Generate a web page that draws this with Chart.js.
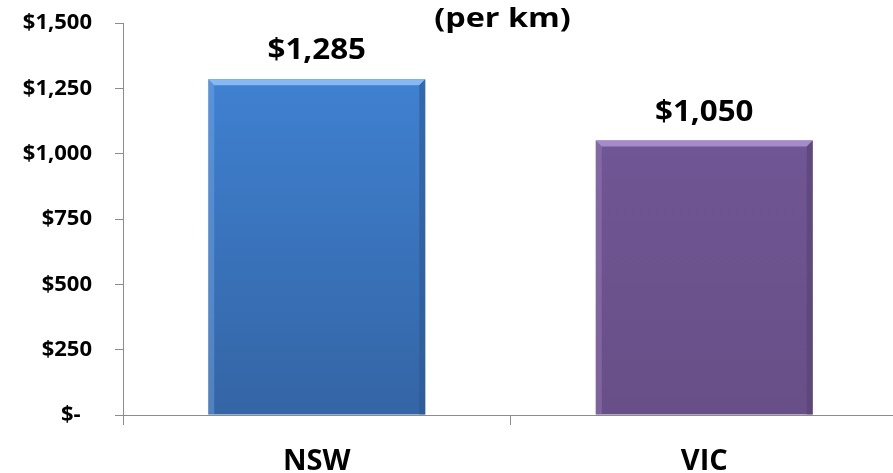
<!DOCTYPE html>
<html>
<head>
<meta charset="utf-8">
<script src="https://cdn.jsdelivr.net/npm/chart.js@4.4.0/dist/chart.umd.min.js"></script>
<style>
  html, body { margin: 0; padding: 0; background: #fff; overflow: hidden; }
  #wrap { width: 900px; height: 473px; }
</style>
</head>
<body>
<div id="wrap"><canvas id="chart"></canvas></div>
<script>
const states = ["NSW", "VIC"];
const costPerKm = [1285, 1050];
const yTicks = [0, 250, 500, 750, 1000, 1250, 1500];

// top / bottom shade of each bar
const barShades = [
  ["#4185d8", "#3465a5"],
  ["#72599a", "#694f87"]
];
const bevelLight = ["#86b8f2", "#a58bc9"];
const bevelDark = ["#2c5590", "#54406e"];

const FONT = "'Open Sans', 'Noto Sans', sans-serif";

function money(v) {
  if (v === 0) return "$-  ";
  return "$" + v.toLocaleString("en-US");
}

// bevelled edges on each bar
const bevelPlugin = {
  id: "bevel",
  afterDatasetsDraw(chart) {
    const ctx = chart.ctx;
    const meta = chart.getDatasetMeta(0);
    meta.data.forEach((bar, i) => {
      const l = bar.x - bar.width / 2, r = bar.x + bar.width / 2;
      const t = bar.y, b = bar.base;
      const e = 6;
      ctx.save();
      ctx.fillStyle = bevelLight[i];
      ctx.beginPath();
      ctx.moveTo(l, t); ctx.lineTo(r, t); ctx.lineTo(r - e, t + e); ctx.lineTo(l + e, t + e);
      ctx.closePath(); ctx.fill();
      ctx.globalAlpha = 0.35;
      ctx.beginPath();
      ctx.moveTo(l, t); ctx.lineTo(l + e, t + e); ctx.lineTo(l + e, b); ctx.lineTo(l, b);
      ctx.closePath(); ctx.fill();
      ctx.globalAlpha = 0.55;
      ctx.fillStyle = bevelDark[i];
      ctx.beginPath();
      ctx.moveTo(r, t); ctx.lineTo(r - e, t + e); ctx.lineTo(r - e, b); ctx.lineTo(r, b);
      ctx.closePath(); ctx.fill();
      ctx.restore();
    });
  }
};

// value above each bar, plus the chart title line
const labelPlugin = {
  id: "labels",
  afterDraw(chart) {
    const ctx = chart.ctx;
    const meta = chart.getDatasetMeta(0);
    ctx.save();
    ctx.fillStyle = "#000";
    ctx.textAlign = "center";
    ctx.textBaseline = "alphabetic";
    ctx.font = "bold 29px " + FONT;
    meta.data.forEach((bar, i) => {
      ctx.save();
      ctx.translate(bar.x, bar.y - 20);
      ctx.scale(1.08, 1);
      ctx.fillText(money(costPerKm[i]), 0, 0);
      ctx.restore();
    });
    const a = chart.chartArea;
    ctx.font = "bold 27px " + FONT;
    ctx.translate((a.left + a.right) / 2 - 8, 27);
    ctx.scale(1.2, 1);
    ctx.fillText("(per km)", 0, 0);
    ctx.restore();
  }
};

new Chart(document.getElementById("chart"), {
  type: "bar",
  data: {
    labels: states,
    datasets: [{
      data: costPerKm,
      backgroundColor(c) {
        const area = c.chart.chartArea;
        const s = barShades[c.dataIndex];
        if (!area) return s[0];
        const g = c.chart.ctx.createLinearGradient(0, area.top, 0, area.bottom);
        g.addColorStop(0, s[0]);
        g.addColorStop(1, s[1]);
        return g;
      },
      borderWidth: 0,
      categoryPercentage: 1,
      barPercentage: 0.56
    }]
  },
  options: {
    responsive: true,
    maintainAspectRatio: false,
    animation: false,
    layout: { padding: { top: 23, right: 2, left: 0, bottom: 0 } },
    plugins: {
      legend: { display: false },
      tooltip: { enabled: false },
      title: { display: false }
    },
    scales: {
      x: {
        grid: {
          offset: true,
          drawOnChartArea: false,
          tickLength: 10,
          color: "#8c8c8c"
        },
        border: { color: "#8c8c8c", width: 1 },
        ticks: {
          color: "#000",
          padding: 19,
          font: { family: FONT, size: 29, weight: "bold" }
        },
        afterFit(s) { s.height = 58; }
      },
      y: {
        min: 0,
        max: 1500,
        afterBuildTicks(s) { s.ticks = yTicks.map(v => ({ value: v })); },
        grid: {
          drawOnChartArea: false,
          tickLength: 8,
          color: "#8c8c8c"
        },
        border: { color: "#8c8c8c", width: 1 },
        ticks: {
          color: "#000",
          padding: 23,
          font: { family: FONT, size: 22, weight: "bold" },
          callback: v => money(v)
        },
        afterFit(s) {
          s.width = 123;
          s.paddingTop = 0;
          s.paddingBottom = 0;
        }
      }
    }
  },
  plugins: [bevelPlugin, labelPlugin]
});
</script>
</body>
</html>
